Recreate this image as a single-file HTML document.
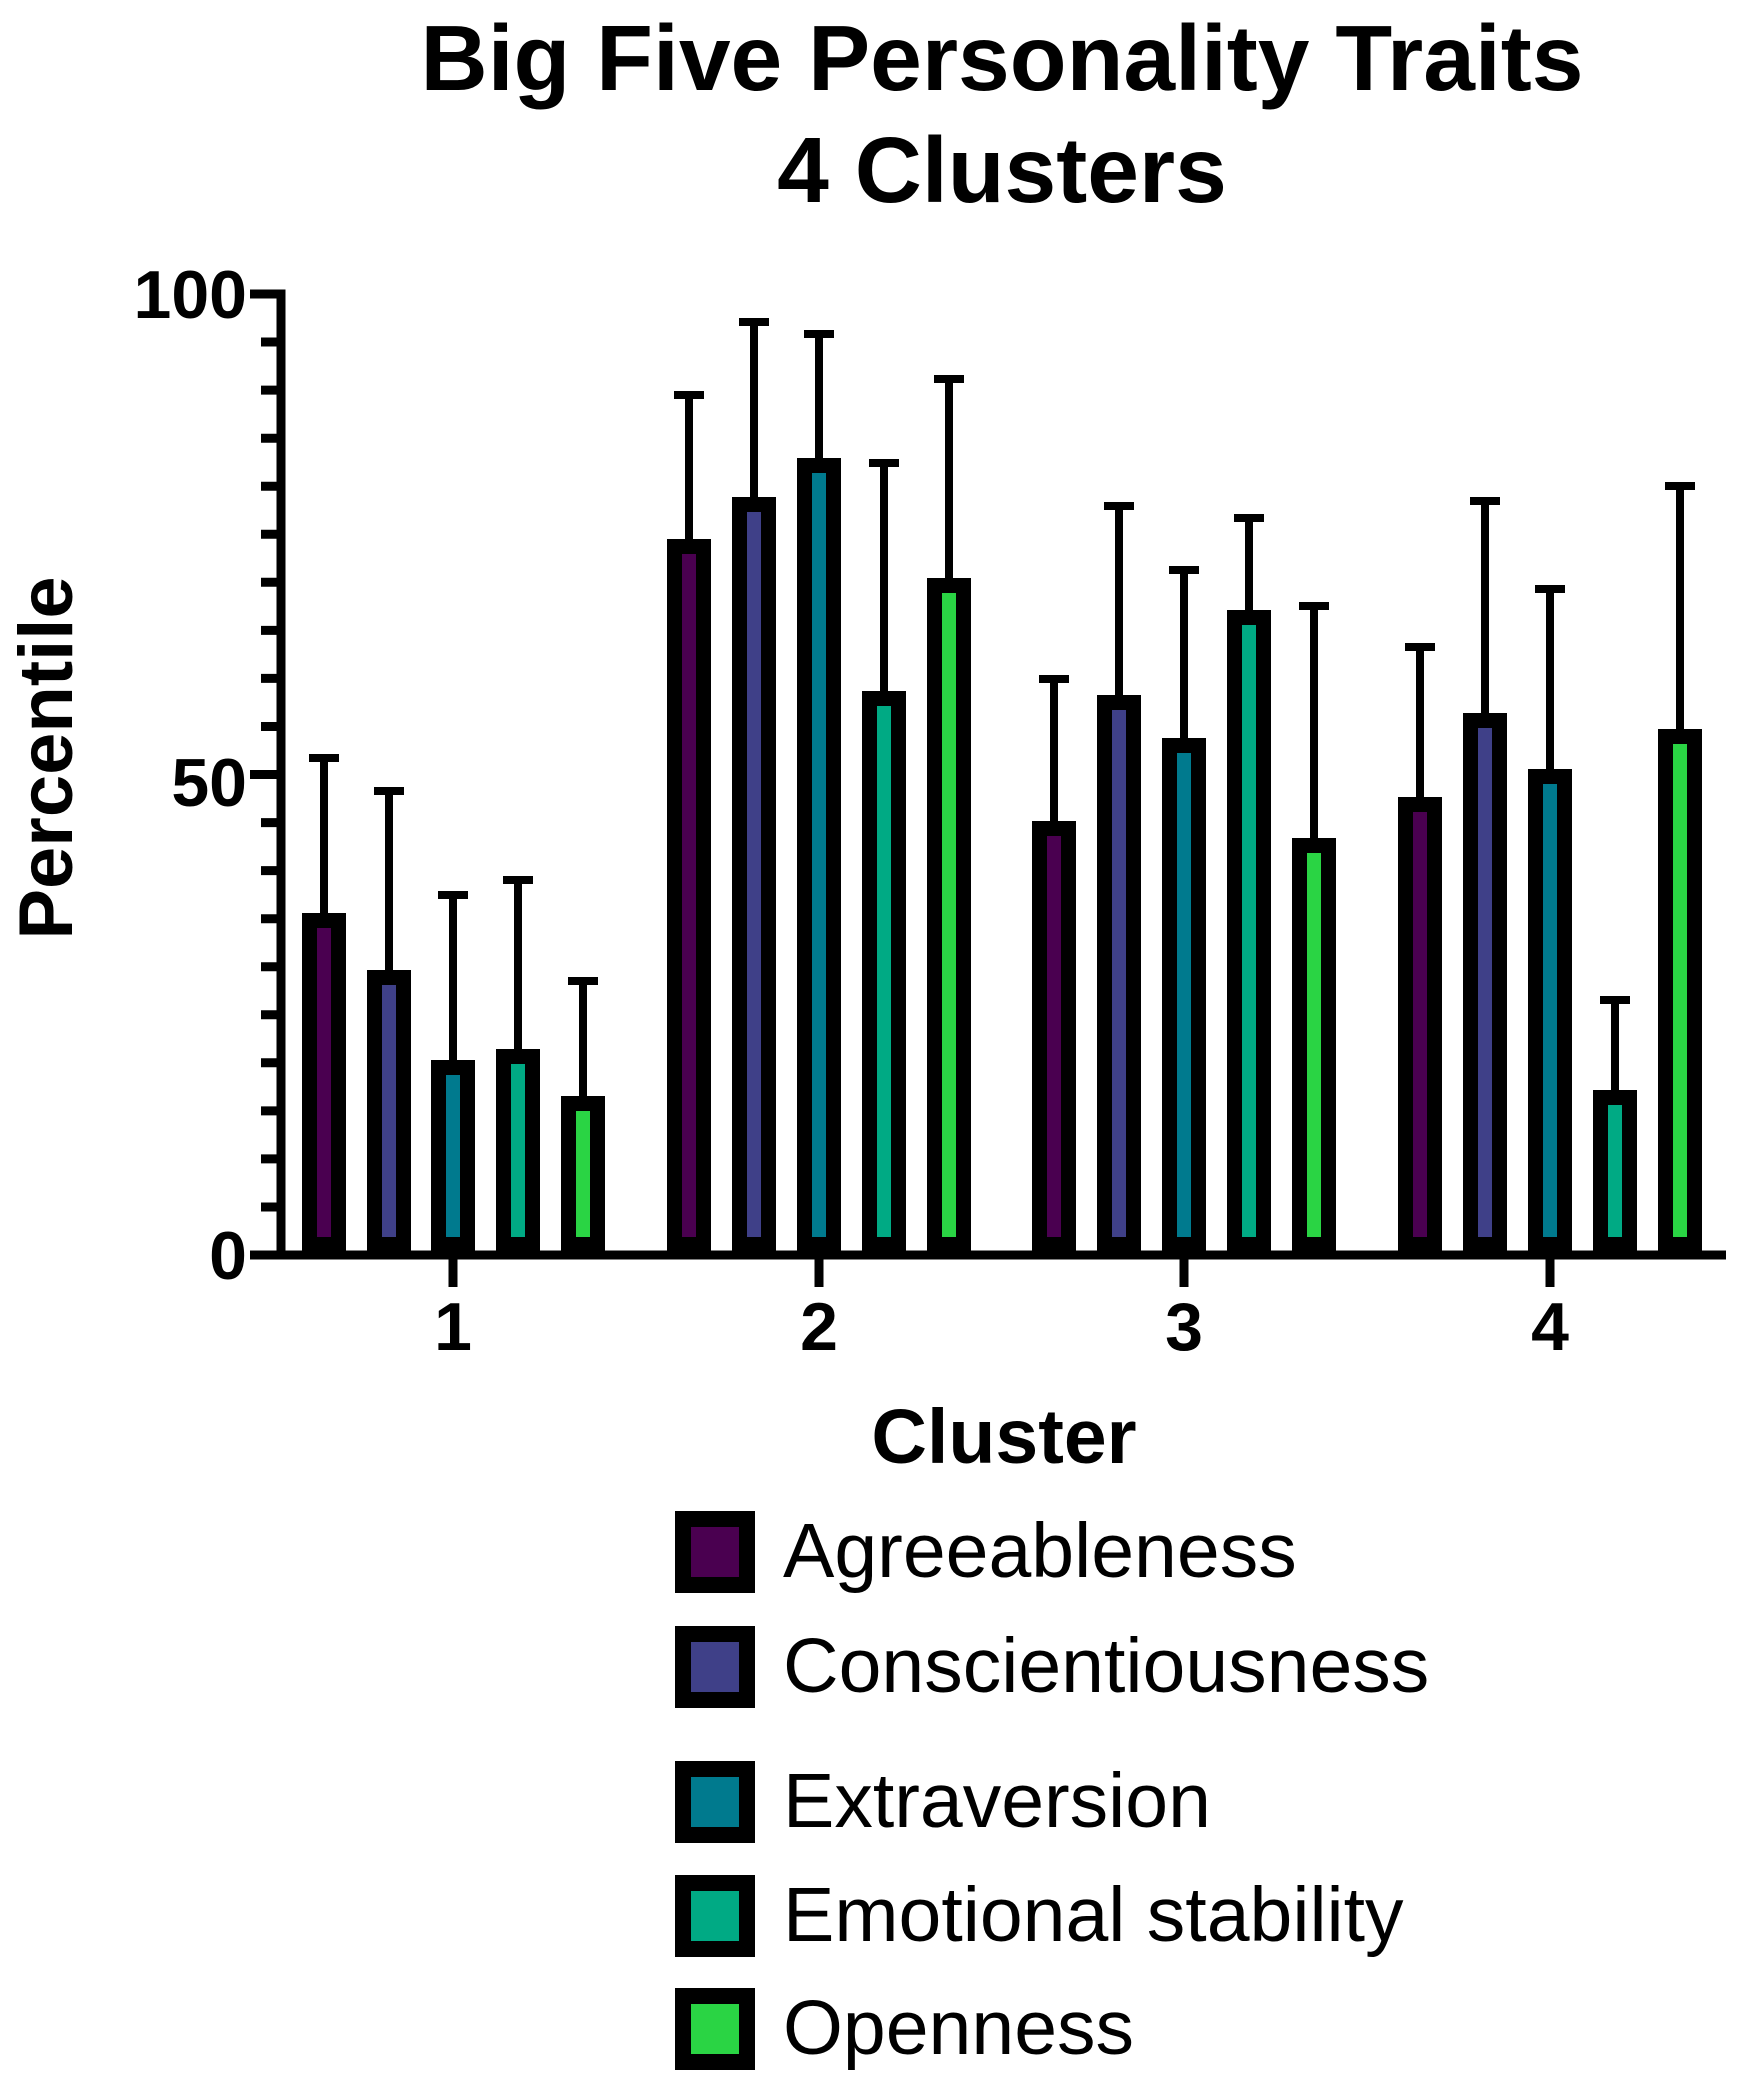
<!DOCTYPE html>
<html><head><meta charset="utf-8"><style>html,body{margin:0;padding:0;background:#fff}svg{display:block}</style></head><body>
<svg width="1760" height="2099" viewBox="0 0 1760 2099" xmlns="http://www.w3.org/2000/svg" font-family="Liberation Sans, Arial, sans-serif">
<text x="1002" y="90" font-size="93" font-weight="bold" text-anchor="middle">Big Five Personality Traits</text>
<text x="1002" y="202" font-size="93" font-weight="bold" text-anchor="middle">4 Clusters</text>
<text transform="translate(72,758) rotate(-90)" font-size="76" font-weight="bold" text-anchor="middle">Percentile</text>
<g font-size="68" font-weight="bold" text-anchor="end">
<text x="247" y="318">100</text><text x="247" y="806">50</text><text x="247" y="1279">0</text>
</g>
<g font-size="68" font-weight="bold" text-anchor="middle">
<text x="453" y="1350">1</text><text x="819" y="1350">2</text><text x="1184" y="1350">3</text><text x="1550" y="1350">4</text>
</g>
<text x="1004" y="1463" font-size="77" font-weight="bold" text-anchor="middle">Cluster</text>
<g id="bars" stroke="#000" transform="translate(0,-3)">
<g stroke-width="8"><line x1="324" y1="916" x2="324" y2="761"/><line x1="309" y1="761" x2="339" y2="761"/>
<line x1="389" y1="973" x2="389" y2="794"/><line x1="374" y1="794" x2="404" y2="794"/>
<line x1="453" y1="1063" x2="453" y2="898"/><line x1="438" y1="898" x2="468" y2="898"/>
<line x1="518" y1="1052" x2="518" y2="883"/><line x1="503" y1="883" x2="533" y2="883"/>
<line x1="583" y1="1099" x2="583" y2="984"/><line x1="568" y1="984" x2="598" y2="984"/>
<line x1="689" y1="542" x2="689" y2="398"/><line x1="674" y1="398" x2="704" y2="398"/>
<line x1="754" y1="500" x2="754" y2="325"/><line x1="739" y1="325" x2="769" y2="325"/>
<line x1="819" y1="461" x2="819" y2="337"/><line x1="804" y1="337" x2="834" y2="337"/>
<line x1="884" y1="694" x2="884" y2="466"/><line x1="869" y1="466" x2="899" y2="466"/>
<line x1="949" y1="581" x2="949" y2="382"/><line x1="934" y1="382" x2="964" y2="382"/>
<line x1="1054" y1="824" x2="1054" y2="682"/><line x1="1039" y1="682" x2="1069" y2="682"/>
<line x1="1119" y1="698" x2="1119" y2="509"/><line x1="1104" y1="509" x2="1134" y2="509"/>
<line x1="1184" y1="741" x2="1184" y2="573"/><line x1="1169" y1="573" x2="1199" y2="573"/>
<line x1="1249" y1="613" x2="1249" y2="521"/><line x1="1234" y1="521" x2="1264" y2="521"/>
<line x1="1314" y1="841" x2="1314" y2="609"/><line x1="1299" y1="609" x2="1329" y2="609"/>
<line x1="1420" y1="800" x2="1420" y2="650"/><line x1="1405" y1="650" x2="1435" y2="650"/>
<line x1="1485" y1="716" x2="1485" y2="504"/><line x1="1470" y1="504" x2="1500" y2="504"/>
<line x1="1550" y1="772" x2="1550" y2="592"/><line x1="1535" y1="592" x2="1565" y2="592"/>
<line x1="1615" y1="1093" x2="1615" y2="1003"/><line x1="1600" y1="1003" x2="1630" y2="1003"/>
<line x1="1680" y1="732" x2="1680" y2="489"/><line x1="1665" y1="489" x2="1695" y2="489"/>
</g>
<g stroke-width="15">
<rect x="309.5" y="923.5" width="29" height="324" fill="#4a0050"/>
<rect x="374.5" y="980.5" width="29" height="267" fill="#3f4088"/>
<rect x="438.5" y="1070.5" width="29" height="177" fill="#007a8e"/>
<rect x="503.5" y="1059.5" width="29" height="188" fill="#00aa84"/>
<rect x="568.5" y="1106.5" width="29" height="141" fill="#2ad444"/>
<rect x="674.5" y="549.5" width="29" height="698" fill="#4a0050"/>
<rect x="739.5" y="507.5" width="29" height="740" fill="#3f4088"/>
<rect x="804.5" y="468.5" width="29" height="779" fill="#007a8e"/>
<rect x="869.5" y="701.5" width="29" height="546" fill="#00aa84"/>
<rect x="934.5" y="588.5" width="29" height="659" fill="#2ad444"/>
<rect x="1039.5" y="831.5" width="29" height="416" fill="#4a0050"/>
<rect x="1104.5" y="705.5" width="29" height="542" fill="#3f4088"/>
<rect x="1169.5" y="748.5" width="29" height="499" fill="#007a8e"/>
<rect x="1234.5" y="620.5" width="29" height="627" fill="#00aa84"/>
<rect x="1299.5" y="848.5" width="29" height="399" fill="#2ad444"/>
<rect x="1405.5" y="807.5" width="29" height="440" fill="#4a0050"/>
<rect x="1470.5" y="723.5" width="29" height="524" fill="#3f4088"/>
<rect x="1535.5" y="779.5" width="29" height="468" fill="#007a8e"/>
<rect x="1600.5" y="1100.5" width="29" height="147" fill="#00aa84"/>
<rect x="1665.5" y="739.5" width="29" height="508" fill="#2ad444"/>
</g>
</g>
<g stroke="#000" stroke-width="9">
<line x1="281" y1="289.5" x2="281" y2="1259.5"/>
<line x1="250" y1="1255" x2="1726" y2="1255"/>
<line x1="250" y1="294" x2="281" y2="294"/>
<line x1="250" y1="774.5" x2="281" y2="774.5"/>
<line x1="453" y1="1255" x2="453" y2="1287"/>
<line x1="819" y1="1255" x2="819" y2="1287"/>
<line x1="1184" y1="1255" x2="1184" y2="1287"/>
<line x1="1550" y1="1255" x2="1550" y2="1287"/>
</g>
<g stroke="#000" stroke-width="9">
<line x1="261" y1="342" x2="281" y2="342"/><line x1="261" y1="390.1" x2="281" y2="390.1"/>
<line x1="261" y1="438.2" x2="281" y2="438.2"/><line x1="261" y1="486.2" x2="281" y2="486.2"/>
<line x1="261" y1="534.3" x2="281" y2="534.3"/><line x1="261" y1="582.3" x2="281" y2="582.3"/>
<line x1="261" y1="630.4" x2="281" y2="630.4"/><line x1="261" y1="678.4" x2="281" y2="678.4"/>
<line x1="261" y1="726.5" x2="281" y2="726.5"/>
<line x1="261" y1="822.6" x2="281" y2="822.6"/><line x1="261" y1="870.6" x2="281" y2="870.6"/>
<line x1="261" y1="918.7" x2="281" y2="918.7"/><line x1="261" y1="966.7" x2="281" y2="966.7"/>
<line x1="261" y1="1014.8" x2="281" y2="1014.8"/><line x1="261" y1="1062.8" x2="281" y2="1062.8"/>
<line x1="261" y1="1110.9" x2="281" y2="1110.9"/><line x1="261" y1="1158.9" x2="281" y2="1158.9"/>
<line x1="261" y1="1207" x2="281" y2="1207"/>
</g>
<g stroke="#000" stroke-width="16">
<rect x="683" y="1519" width="64" height="66" fill="#4a0050"/>
<rect x="683" y="1634" width="64" height="66" fill="#3f4088"/>
<rect x="683" y="1769" width="64" height="66" fill="#007a8e"/>
<rect x="683" y="1883" width="64" height="66" fill="#00aa84"/>
<rect x="683" y="1996" width="64" height="66" fill="#2ad444"/>
</g>
<g font-size="77">
<text x="783" y="1577">Agreeableness</text>
<text x="783" y="1692">Conscientiousness</text>
<text x="783" y="1827">Extraversion</text>
<text x="783" y="1941">Emotional stability</text>
<text x="783" y="2054">Openness</text>
</g>
</svg>
</body></html>
